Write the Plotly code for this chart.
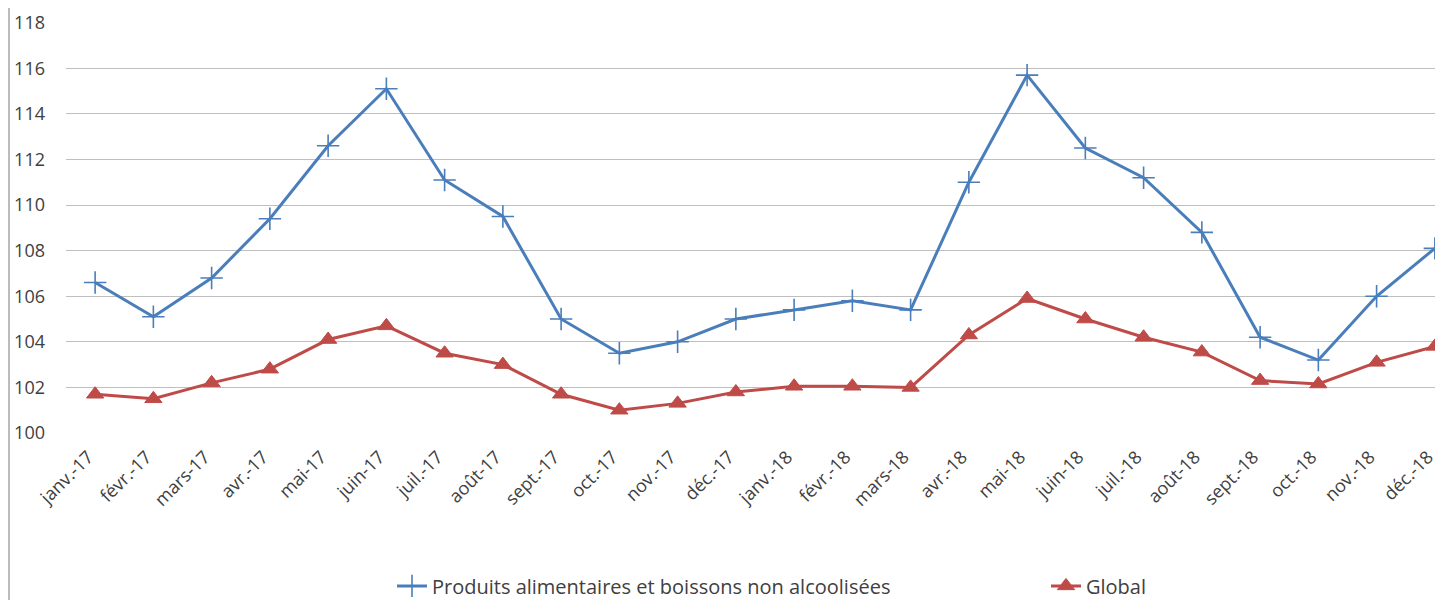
import plotly.graph_objects as go

months = ["janv.-17", "févr.-17", "mars-17", "avr.-17", "mai-17", "juin-17", "juil.-17", "août-17",
          "sept.-17", "oct.-17", "nov.-17", "déc.-17", "janv.-18", "févr.-18", "mars-18", "avr.-18",
          "mai-18", "juin-18", "juil.-18", "août-18", "sept.-18", "oct.-18", "nov.-18", "déc.-18"]

alimentaires = [106.6, 105.1, 106.8, 109.4, 112.6, 115.1, 111.1, 109.5, 105.0, 103.5, 104.0, 105.0,
                105.4, 105.8, 105.4, 111.0, 115.7, 112.5, 111.2, 108.8, 104.2, 103.2, 106.0, 108.1]

global_idx = [101.7, 101.5, 102.2, 102.8, 104.1, 104.7, 103.5, 103.0, 101.7, 101.0, 101.3, 101.8,
              102.05, 102.05, 102.0, 104.3, 105.9, 105.0, 104.2, 103.55, 102.3, 102.15, 103.1, 103.8]

y_ticks = [100, 102, 104, 106, 108, 110, 112, 114, 116, 118]

name_a = "Produits alimentaires et boissons non alcoolisées"
name_g = "Global"

BLUE = "#4A7EBB"
RED = "#BE4B48"
FONT = "Open Sans, Lato, sans-serif"

fig = go.Figure()
fig.add_trace(go.Scatter(
    x=list(range(len(months))), y=alimentaires, name=name_a, mode="lines+markers",
    line=dict(color=BLUE, width=3),
    marker=dict(symbol="cross-thin", size=16, line=dict(color=BLUE, width=1.6)),
    legend="legend",
))
fig.add_trace(go.Scatter(
    x=list(range(len(months))), y=global_idx, name=name_g, mode="lines+markers",
    line=dict(color=RED, width=3),
    marker=dict(symbol="triangle-up", size=15, color=RED, line=dict(color=RED, width=1)),
    legend="legend2",
))

# page has an 8px body margin: figure is 1435x592 so it ends at the window's edge
OFF = 8
L = 66 - OFF
PW = 1435.0 - L
fig.update_layout(
    width=1443 - OFF, height=600 - OFF,
    margin=dict(l=L, r=0, t=22 - OFF, b=167, autoexpand=False),
    paper_bgcolor="white", plot_bgcolor="white",
    font=dict(family=FONT, size=18, color="#404040"),
    showlegend=True,
    legend=dict(orientation="h", x=(392 - 66) / PW, xanchor="left", y=-0.372, yanchor="middle",
                font=dict(size=20, color="#404040"), bgcolor="rgba(0,0,0,0)"),
    legend2=dict(orientation="h", x=(1046 - 66) / PW, xanchor="left", y=-0.372, yanchor="middle",
                 font=dict(size=20, color="#404040"), bgcolor="rgba(0,0,0,0)"),
    shapes=[dict(type="line", xref="paper", yref="paper", x0=-(L - 1) / PW, x1=-(L - 1) / PW,
                 y0=-0.5, y1=1.1, line=dict(color="#A6A6A6", width=1.5))],
)
fig.update_xaxes(
    tickmode="array", tickvals=list(range(len(months))), ticktext=months,
    tickangle=-45, range=[-0.5, 23.14], showgrid=False, showline=False, ticks="",
    zeroline=False, tickfont=dict(size=18, color="#404040"), automargin=False,
    ticklabelstandoff=9, ticklabelshift=-7, ticklabeloverflow="allow",
)
fig.update_yaxes(
    range=[100, 118.03], tickvals=y_ticks, showgrid=True, gridcolor="#BFBFBF", gridwidth=1.3,
    zeroline=False, showline=False, ticks="", tickfont=dict(size=18, color="#404040"),
    ticklabelstandoff=20, automargin=False,
)
fig.write_html("out.html")
